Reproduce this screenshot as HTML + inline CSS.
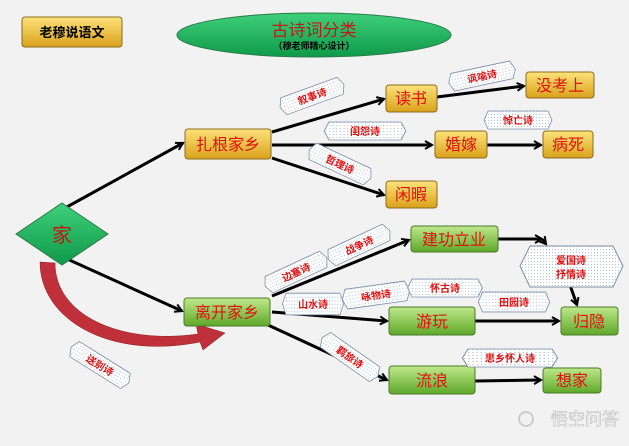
<!DOCTYPE html><html><head><meta charset="utf-8"><style>
body{margin:0;background:#f2f2f2;}
svg text{font-family:"Liberation Sans","Noto Sans CJK SC",sans-serif;}
</style></head><body>
<svg width="629" height="441" viewBox="0 0 629 441" xmlns="http://www.w3.org/2000/svg">
<defs>
<linearGradient id="y" x1="0" y1="0" x2="0" y2="1"><stop offset="0" stop-color="#fde27a"/><stop offset="1" stop-color="#d9a21a"/></linearGradient>
<linearGradient id="g" x1="0" y1="0" x2="0" y2="1"><stop offset="0" stop-color="#bfe88a"/><stop offset="1" stop-color="#5ea82a"/></linearGradient>
<linearGradient id="e" x1="0" y1="0" x2="0" y2="1"><stop offset="0" stop-color="#3fcf7a"/><stop offset="1" stop-color="#0f9a4a"/></linearGradient>
<pattern id="d" width="3" height="3" patternUnits="userSpaceOnUse"><rect width="3" height="3" fill="#fff"/><rect width="1" height="1" fill="#b8c4d8"/></pattern>
<marker id="a" markerWidth="10" markerHeight="10" refX="8" refY="5" orient="auto" markerUnits="userSpaceOnUse"><path d="M1,1 L8,5 L1,9" fill="none" stroke="#000" stroke-width="2"/></marker>
<g id="h"><polygon points="-30,-9 30,-9 34,0 30,9 -30,9 -34,0" fill="url(#d)" stroke="#8090a8" stroke-width="0.8"/></g>
</defs>
<rect x="22" y="17" width="100" height="30" rx="3" fill="url(#y)" stroke="#8a6a20"/>
<text x="72" y="37" text-anchor="middle" font-size="13" font-weight="bold">老穆说语文</text>
<ellipse cx="314" cy="35" rx="137" ry="22" fill="url(#e)" stroke="#2a7a4a"/>
<text x="314" y="36" text-anchor="middle" font-size="17" fill="#c01818">古诗词分类</text>
<text x="314" y="49" text-anchor="middle" font-size="9" font-weight="bold">（穆老师精心设计）</text>

<g stroke="#000" stroke-width="3" fill="none" marker-end="url(#a)">
<line x1="65" y1="208" x2="183" y2="143"/>
<line x1="65" y1="258" x2="182" y2="311"/>
<line x1="272" y1="132" x2="384" y2="99"/>
<line x1="437" y1="97" x2="524" y2="86"/>
<line x1="272" y1="145" x2="432" y2="145"/>
<line x1="487" y1="145" x2="541" y2="145"/>
<line x1="272" y1="158" x2="384" y2="195"/>
<line x1="272" y1="296" x2="409" y2="240"/>
<line x1="498" y1="239" x2="542" y2="239"/>
<line x1="542" y1="239" x2="546" y2="244"/>
<line x1="570" y1="285" x2="577" y2="305"/>
<line x1="272" y1="312" x2="387" y2="321"/>
<line x1="475" y1="321" x2="559" y2="321"/>
<line x1="268" y1="325" x2="387" y2="380"/>
<line x1="475" y1="381" x2="541" y2="380"/>
</g>
<path d="M40,262 C40,320 110,360 200,342 L203,350 L225,333 L196,324 L198,334 C120,345 55,315 55,263 Z" fill="#c0303a" stroke="#8a1a20" stroke-width="0.5"/>

<polygon points="62,203 108,234 62,265 16,234" fill="url(#e)" stroke="#2a7a4a"/>
<text x="62" y="242" text-anchor="middle" font-size="20" fill="#c01818">家</text>

<g font-size="16" fill="#e01010" text-anchor="middle">
<rect x="185" y="129" width="86" height="30" rx="3" fill="url(#y)" stroke="#8a6a20"/><text x="228" y="150">扎根家乡</text>
<rect x="386" y="85" width="51" height="27" rx="3" fill="url(#y)" stroke="#8a6a20"/><text x="411" y="104">读书</text>
<rect x="526" y="72" width="68" height="26" rx="3" fill="url(#y)" stroke="#8a6a20"/><text x="560" y="91">没考上</text>
<rect x="435" y="131" width="52" height="27" rx="3" fill="url(#y)" stroke="#8a6a20"/><text x="461" y="150">婚嫁</text>
<rect x="543" y="131" width="50" height="27" rx="3" fill="url(#y)" stroke="#8a6a20"/><text x="568" y="150">病死</text>
<rect x="386" y="181" width="51" height="27" rx="3" fill="url(#y)" stroke="#8a6a20"/><text x="411" y="200">闲暇</text>
<rect x="184" y="298" width="86" height="28" rx="3" fill="url(#g)" stroke="#4a7a2a"/><text x="227" y="318">离开家乡</text>
<rect x="411" y="226" width="87" height="26" rx="3" fill="url(#g)" stroke="#4a7a2a"/><text x="454" y="245">建功立业</text>
<rect x="389" y="307" width="86" height="28" rx="3" fill="url(#g)" stroke="#4a7a2a"/><text x="432" y="327">游玩</text>
<rect x="561" y="307" width="57" height="28" rx="3" fill="url(#g)" stroke="#4a7a2a"/><text x="589" y="327">归隐</text>
<rect x="389" y="366" width="86" height="28" rx="3" fill="url(#g)" stroke="#4a7a2a"/><text x="432" y="386">流浪</text>
<rect x="543" y="368" width="58" height="25" rx="3" fill="url(#g)" stroke="#4a7a2a"/><text x="572" y="386">想家</text>
</g>

<polygon points="530,246 613,246 623,266 613,287 530,287 520,266" fill="url(#d)" stroke="#8090a8"/>
<g font-size="10" font-weight="bold" fill="#e01010" text-anchor="middle">
<text x="571" y="264">爱国诗</text><text x="571" y="278">抒情诗</text>
<g transform="translate(312,96) rotate(-20)"><use href="#h"/><text y="4">叙事诗</text></g>
<g transform="translate(482,76) rotate(-12)"><use href="#h"/><text y="4">讽喻诗</text></g>
<g transform="translate(365,131)"><use href="#h" transform="scale(1.2,1)"/><text y="4">闺怨诗</text></g>
<g transform="translate(518,120)"><use href="#h"/><text y="4">悼亡诗</text></g>
<g transform="translate(340,164) rotate(25)"><use href="#h"/><text y="4">哲理诗</text></g>
<g transform="translate(296,272) rotate(-25)"><use href="#h"/><text y="4">边塞诗</text></g>
<g transform="translate(359,245) rotate(-25)"><use href="#h"/><text y="4">战争诗</text></g>
<g transform="translate(313,304)"><use href="#h" transform="scale(0.9,1.2)"/><text y="4">山水诗</text></g>
<g transform="translate(376,295) rotate(-8)"><use href="#h" transform="scale(1,1.1)"/><text y="4">咏物诗</text></g>
<g transform="translate(445,288)"><use href="#h" transform="scale(1.1,1)"/><text y="4">怀古诗</text></g>
<g transform="translate(514,302)"><use href="#h" transform="scale(1.05,1.1)"/><text y="4">田园诗</text></g>
<g transform="translate(350,357) rotate(35)"><use href="#h"/><text y="4">羁旅诗</text></g>
<g transform="translate(510,358)"><use href="#h" transform="scale(1.4,1)"/><text y="4">思乡怀人诗</text></g>
<g transform="translate(100,365) rotate(32)"><use href="#h"/><text y="4">送别诗</text></g>
</g>
<text x="585" y="425" text-anchor="middle" font-size="17" fill="#ffffff" stroke="#bbb" stroke-width="0.6">悟空问答</text>
<circle cx="526" cy="419" r="7" fill="none" stroke="#ccc" stroke-width="2"/>
</svg>
</body></html>
